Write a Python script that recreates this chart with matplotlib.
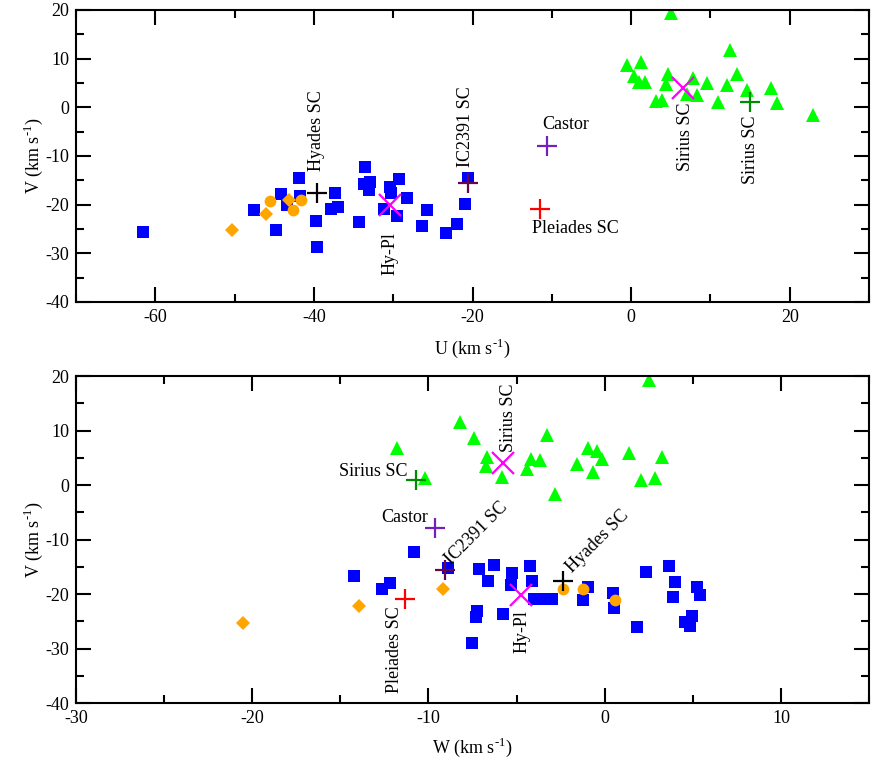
import matplotlib
matplotlib.use("Agg")
import matplotlib.pyplot as plt
from matplotlib.ticker import MultipleLocator

# ---- top panel (U, V) ----
TOP_SQ_U = [-61.5, -47.6, -44.8, -44.2, -43.4, -41.9, -41.7, -39.8, -39.6, -37.9, -37.3, -37.0,
            -34.3, -33.5, -33.7, -32.9, -33.1, -30.4, -29.3, -30.3, -31.2, -29.5, -28.3, -25.7,
            -26.4, -23.3, -22.0, -21.0, -20.6]
TOP_SQ_V = [-25.7, -21.0, -25.2, -17.8, -20.1, -14.6, -18.3, -23.3, -28.8, -20.8, -17.6, -20.5,
            -23.6, -12.2, -15.7, -15.3, -16.9, -16.4, -14.8, -17.7, -20.8, -22.4, -18.7, -21.0,
            -24.4, -25.9, -24.0, -19.9, -14.6]
TOP_TRI_U = [5.0, -0.5, 1.3, 0.3, 1.0, 1.8, 4.7, 4.4, 3.1, 3.9, 7.8, 7.1, 8.3, 9.6, 10.9, 12.1,
             12.5, 13.4, 14.6, 17.6, 18.4, 22.9]
TOP_TRI_V = [19.4, 8.8, 9.3, 6.4, 5.3, 5.2, 6.8, 4.7, 1.4, 1.6, 6.1, 2.8, 2.5, 4.9, 1.1, 4.5,
             11.7, 6.9, 3.6, 4.0, 0.9, -1.6]
TOP_CIRC_U = [-45.5, -42.7, -41.6]
TOP_CIRC_V = [-19.2, -21.1, -19.1]
TOP_DIA_U = [-50.3, -46.1, -43.1]
TOP_DIA_V = [-25.2, -22.0, -19.0]

# ---- bottom panel (W, V) ----
BOT_SQ_W = [-14.2, -10.85, -12.65, -12.2, -8.9, -7.13, -6.28, -6.65, -5.24, -5.33, -4.24, -4.1,
            -4.0, -3.35, -3.0, -7.22, -7.28, -5.75, -7.54, -0.95, -1.23, 0.45, 0.55, 1.85, 2.36,
            3.65, 3.97, 3.87, 5.26, 5.39, 4.97, 4.55, 4.84]
BOT_SQ_V = [-16.7, -12.2, -19.0, -17.9, -15.3, -15.5, -14.7, -17.7, -16.1, -18.3, -14.8, -17.6,
            -20.9, -20.9, -20.9, -23.2, -24.3, -23.7, -28.9, -18.7, -21.1, -19.9, -22.6, -26.0, -15.9,
            -14.9, -17.8, -20.5, -18.8, -20.2, -24.0, -25.1, -25.9]
BOT_TRI_W = [2.5, -8.2, -7.4, -11.8, -6.7, -6.75, -5.8, -10.2, -4.2, -3.7, -4.4, -3.25, -2.8,
             -1.6, -0.95, -0.45, -0.13, -0.64, 1.38, 3.27, 2.08, 2.84]
BOT_TRI_V = [19.3, 11.6, 8.7, 6.7, 5.1, 3.4, 1.4, 1.2, 4.7, 4.5, 2.9, 9.2, -1.65,
             3.8, 6.7, 6.2, 4.7, 2.4, 5.9, 5.1, 0.9, 1.2]
BOT_CIRC_W = [-2.34, -1.23, 0.57]
BOT_CIRC_V = [-19.1, -19.1, -21.1]
BOT_DIA_W = [-20.5, -13.97, -9.15]
BOT_DIA_V = [-25.3, -22.2, -19.1]

# ---- named groups: (U, W, V) ----
GROUPS = ["Hyades SC", "IC2391 SC", "Castor", "Pleiades SC", "Hy-Pl", "Sirius SC", "Sirius SC "]
GROUP_U = [-39.6, -20.6, -10.6, -11.5, -30.4, 6.6, 15.0]
GROUP_W = [-2.37, -9.06, -9.64, -11.34, -4.76, -5.75, -10.7]
GROUP_V_TOP = [-17.6, -15.5, -7.9, -20.8, -20.1, 4.0, 1.0]
GROUP_V_BOT = [-17.6, -15.6, -7.95, -20.9, -20.2, 4.0, 1.0]
GROUP_MARK = ["+", "+", "+", "+", "x", "x", "+"]
GROUP_COL = ["black", "#670748", "#7221BC", "red", "magenta", "magenta", "#008B00"]

plt.rcParams.update({"font.family": "Liberation Serif", "font.size": 13,
                     "mathtext.fontset": "custom", "mathtext.rm": "Liberation Serif",
                     "axes.unicode_minus": False, "axes.linewidth": 1.5})

UNIT = " (km s$^{\\text{-1}}$)"

fig = plt.figure(figsize=(8.72, 7.63), dpi=100)
ax1 = fig.add_axes([0.0872, 0.6042, 0.9094, 0.3827])
ax2 = fig.add_axes([0.0872, 0.0786, 0.9094, 0.4286])


def scatter_panel(ax, sx, sy, tx, ty, dx, dy, cx, cy, gx, gy):
    ax.plot(sx, sy, "s", color="blue", ms=8, mew=0, zorder=2)
    ax.plot(tx, ty, "^", color="#00FF00", ms=9.5, mew=0, zorder=2)
    ax.plot(dx, dy, "D", color="orange", ms=7.5, mew=0, zorder=3)
    ax.plot(cx, cy, "o", color="orange", ms=8.5, mew=0, zorder=3)
    for x, y, m, c in zip(gx, gy, GROUP_MARK, GROUP_COL):
        ax.plot([x], [y], m, color=c, ms=14 if m == "+" else 16, mew=1.6, zorder=5)
    ax.set_ylim(-40, 20)
    ax.yaxis.set_major_locator(MultipleLocator(10))
    ax.yaxis.set_minor_locator(MultipleLocator(5))
    ax.tick_params(which="both", direction="in", top=True, right=True, width=1.5, labelsize=13)
    ax.tick_params(which="major", length=11, pad=5)
    ax.tick_params(which="minor", length=5.5)
    ax.set_ylabel("V" + UNIT, fontsize=13, labelpad=0)


scatter_panel(ax1, TOP_SQ_U, TOP_SQ_V, TOP_TRI_U, TOP_TRI_V, TOP_DIA_U, TOP_DIA_V,
              TOP_CIRC_U, TOP_CIRC_V, GROUP_U, GROUP_V_TOP)
ax1.set_xlim(-70, 30)
ax1.xaxis.set_major_locator(MultipleLocator(20))
ax1.xaxis.set_minor_locator(MultipleLocator(10))
ax1.set_xlabel("U" + UNIT, fontsize=13, labelpad=8)

ax1.text(-39.7, -13.0, "Hyades SC", rotation=90, ha="center", va="bottom")
ax1.text(-20.9, -12.3, "IC2391 SC", rotation=90, ha="center", va="bottom")
ax1.text(-8.2, -3.6, "Castor", ha="center", va="center")
ax1.text(-7.05, -24.9, "Pleiades SC", ha="center", va="center")
ax1.text(-30.4, -25.7, "Hy-Pl", rotation=90, ha="center", va="top")
ax1.text(6.9, 1.0, "Sirius SC", rotation=90, ha="center", va="top")
ax1.text(15.1, -1.6, "Sirius SC", rotation=90, ha="center", va="top")

scatter_panel(ax2, BOT_SQ_W, BOT_SQ_V, BOT_TRI_W, BOT_TRI_V, BOT_DIA_W, BOT_DIA_V,
              BOT_CIRC_W, BOT_CIRC_V, GROUP_W, GROUP_V_BOT)
ax2.set_xlim(-30, 15)
ax2.xaxis.set_major_locator(MultipleLocator(10))
ax2.xaxis.set_minor_locator(MultipleLocator(5))
ax2.set_xlabel("W" + UNIT, fontsize=13, labelpad=6)

ax2.text(-5.45, 6.1, "Sirius SC", rotation=90, ha="center", va="bottom")
ax2.text(-11.17, 2.4, "Sirius SC", ha="right", va="center")
ax2.text(-10.04, -6.05, "Castor", ha="right", va="center")
ax2.text(-8.73, -14.7, "IC2391 SC", rotation=45, rotation_mode="anchor", ha="left", va="baseline")
ax2.text(-1.83, -16.2, "Hyades SC", rotation=45, rotation_mode="anchor", ha="left", va="baseline")
ax2.text(-11.95, -22.3, "Pleiades SC", rotation=90, ha="center", va="top")
ax2.text(-4.72, -22.9, "Hy-Pl", rotation=90, ha="center", va="top")

fig.savefig("out.png", dpi=100, facecolor="white")
